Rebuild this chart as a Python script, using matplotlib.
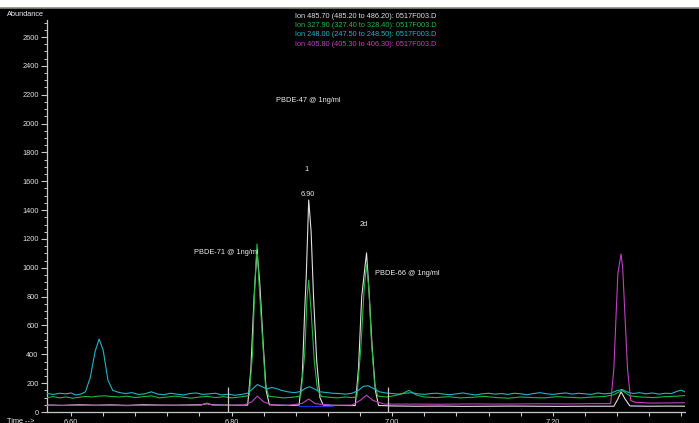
import matplotlib
matplotlib.use("Agg")
import matplotlib.pyplot as plt
from matplotlib.ticker import MultipleLocator, FixedLocator

plt.rcParams['font.family'] = ['Liberation Sans', 'DejaVu Sans']

# ---- data ----
ion_labels = [
    "Ion 485.70 (485.20 to 486.20): 0517F003.D",
    "Ion 327.90 (327.40 to 328.40): 0517F003.D",
    "Ion 248.00 (247.50 to 248.50): 0517F003.D",
    "Ion 405.80 (405.30 to 406.30): 0517F003.D",
]
ion_colors = ['#e0e0e0', '#22b840', '#20b4c4', '#c040c0']

# ion 485.70 (white)
t_485 = [6.570, 6.590, 6.610, 6.630, 6.650, 6.670, 6.690, 6.710, 6.730, 6.750,
         6.762, 6.769, 6.776, 6.790, 6.805, 6.820, 6.824, 6.828, 6.8316, 6.835,
         6.839, 6.843, 6.847, 6.860, 6.875, 6.884, 6.888, 6.891, 6.893, 6.896,
         6.899, 6.902, 6.906, 6.910, 6.914, 6.930, 6.945, 6.954, 6.958, 6.962,
         6.968, 6.971, 6.975, 6.979, 6.983, 7.000, 7.030, 7.060, 7.090, 7.120,
         7.150, 7.180, 7.210, 7.240, 7.265, 7.276, 7.281, 7.285, 7.290, 7.296,
         7.320, 7.345, 7.365]
y_485 = [48, 46, 50, 47, 49, 46, 50, 48, 47, 49,
         50, 58, 50, 48, 47, 48, 300, 800, 1120, 900,
         500, 150, 50, 47, 46, 48, 250, 700, 950, 1470,
         1250, 800, 350, 100, 48, 46, 45, 45, 300, 800,
         1103, 850, 450, 150, 45, 42, 40, 41, 39, 40,
         41, 40, 39, 40, 40, 40, 90, 140, 90, 42,
         40, 41, 40]

# ion 327.90 (green)
t_327 = [6.570, 6.578, 6.586, 6.594, 6.602, 6.610, 6.618, 6.626, 6.634, 6.642,
         6.650, 6.660, 6.670, 6.680, 6.690, 6.700, 6.710, 6.720, 6.730, 6.740,
         6.750, 6.760, 6.770, 6.780, 6.790, 6.800, 6.810, 6.818, 6.822, 6.826,
         6.829, 6.8316, 6.834, 6.838, 6.842, 6.846, 6.855, 6.865, 6.875, 6.886,
         6.891, 6.894, 6.896, 6.899, 6.903, 6.907, 6.912, 6.922, 6.932, 6.942,
         6.950, 6.956, 6.961, 6.965, 6.968, 6.971, 6.974, 6.978, 6.982, 6.992,
         7.002, 7.012, 7.021, 7.030, 7.040, 7.055, 7.070, 7.085, 7.100, 7.115,
         7.130, 7.145, 7.160, 7.175, 7.190, 7.205, 7.220, 7.235, 7.250, 7.265,
         7.276, 7.286, 7.296, 7.310, 7.325, 7.340, 7.355, 7.365]
y_327 = [100, 106, 98, 104, 96, 102, 108, 104, 110, 112,
         108, 104, 110, 100, 106, 112, 98, 104, 110, 102,
         96, 104, 108, 100, 106, 98, 104, 110, 115, 400,
         900, 1165, 900, 550, 200, 110, 104, 98, 102, 110,
         400, 800, 915, 700, 350, 150, 108, 102, 98, 104,
         100, 105, 450, 850, 1020, 850, 500, 200, 110, 104,
         112, 126, 150, 118, 104, 100, 106, 98, 102, 108,
         100, 96, 104, 100, 98, 106, 102, 98, 104, 108,
         120, 150, 112, 104, 100, 106, 110, 114]

# ion 248.00 (cyan)
t_248 = [6.570, 6.578, 6.586, 6.594, 6.600, 6.606, 6.612, 6.618, 6.624, 6.630,
         6.635, 6.640, 6.646, 6.652, 6.660, 6.668, 6.676, 6.684, 6.692, 6.700,
         6.708, 6.716, 6.724, 6.732, 6.740, 6.748, 6.756, 6.764, 6.772, 6.780,
         6.788, 6.796, 6.804, 6.812, 6.820, 6.826, 6.832, 6.838, 6.844, 6.850,
         6.856, 6.862, 6.870, 6.878, 6.886, 6.892, 6.897, 6.903, 6.910, 6.918,
         6.926, 6.934, 6.942, 6.950, 6.958, 6.964, 6.970, 6.976, 6.984, 6.992,
         7.000, 7.008, 7.016, 7.024, 7.032, 7.040, 7.048, 7.056, 7.064, 7.072,
         7.080, 7.088, 7.096, 7.104, 7.112, 7.120, 7.128, 7.136, 7.144, 7.152,
         7.160, 7.168, 7.176, 7.184, 7.192, 7.200, 7.208, 7.216, 7.224, 7.232,
         7.240, 7.248, 7.256, 7.264, 7.272, 7.280, 7.286, 7.292, 7.300, 7.308,
         7.316, 7.324, 7.332, 7.340, 7.348, 7.354, 7.360, 7.365]
y_248 = [128, 122, 130, 126, 132, 118, 124, 140, 240, 420,
         506, 430, 220, 150, 135, 128, 134, 122, 126, 140,
         124, 120, 130, 124, 118, 128, 132, 122, 126, 130,
         118, 124, 116, 122, 130, 160, 190, 175, 160, 170,
         162, 150, 140, 134, 142, 165, 175, 160, 140, 135,
         130, 128, 124, 130, 150, 178, 182, 165, 140, 132,
         128, 124, 130, 134, 126, 122, 128, 130, 124, 120,
         126, 132, 124, 118, 126, 130, 124, 128, 122, 130,
         126, 120, 128, 134, 126, 122, 128, 132, 124, 130,
         126, 122, 132, 126, 130, 148, 156, 140, 128, 134,
         126, 132, 124, 130, 128, 142, 152, 138]

# ion 405.80 (magenta)
t_405 = [6.570, 6.590, 6.610, 6.630, 6.650, 6.670, 6.690, 6.710, 6.730, 6.750,
         6.762, 6.769, 6.776, 6.795, 6.815, 6.825, 6.832, 6.840, 6.850, 6.870,
         6.888, 6.896, 6.904, 6.925, 6.950, 6.960, 6.968, 6.976, 6.990, 7.020,
         7.060, 7.100, 7.140, 7.180, 7.220, 7.250, 7.272, 7.276, 7.279, 7.281,
         7.285, 7.287, 7.290, 7.293, 7.297, 7.302, 7.320, 7.345, 7.365]
y_405 = [46, 45, 47, 45, 46, 44, 46, 45, 46, 45,
         48, 62, 48, 46, 48, 70, 110, 70, 50, 46,
         60, 90, 58, 46, 48, 80, 117, 80, 55, 55,
         54, 56, 55, 57, 56, 58, 58, 300, 700, 960,
         1096, 1000, 650, 300, 80, 68, 62, 63, 64]

# integration baseline (blue) and peak markers
t_base = [6.884, 6.926]
y_base = [40, 40]
marker_times = [6.795, 6.995]
marker_top = 170

y_ticks = [0, 200, 400, 600, 800, 1000, 1200, 1400, 1600, 1800, 2000, 2200, 2400, 2600]
x_ticks = [6.60, 6.80, 7.00, 7.20]

W, H = 699, 423


def fx(px):
    return px / W


def fy(py):
    return 1 - py / H


fig = plt.figure(figsize=(W / 100, H / 100), dpi=100, facecolor='black')

# white title strip along the top, as in the instrument window
fig.patches.append(plt.Rectangle((0, fy(8)), 1, 8 / H, transform=fig.transFigure,
                                 facecolor='white', edgecolor='none'))
fig.add_artist(plt.Line2D([0, 1], [fy(8.5), fy(8.5)], color='#8a8a80', linewidth=1.2))

ax = fig.add_axes([fx(47), fy(412), fx(685) - fx(47), (412 - 20) / H])
ax.set_facecolor('black')
ax.set_xlim(6.5701, 7.3646)
ax.set_ylim(0, 2718)

axis_col = '#c8c8c8'
for s in ['top', 'right']:
    ax.spines[s].set_visible(False)
for s in ['left', 'bottom']:
    ax.spines[s].set_color(axis_col)
    ax.spines[s].set_linewidth(0.9)

ax.yaxis.set_major_locator(FixedLocator(y_ticks))
ax.yaxis.set_minor_locator(MultipleLocator(50))
ax.xaxis.set_major_locator(FixedLocator(x_ticks))
ax.xaxis.set_minor_locator(MultipleLocator(0.04))
ax.set_yticklabels([str(v) for v in y_ticks])
ax.set_xticklabels([f"{v:.2f}" for v in x_ticks])
ax.tick_params(axis='y', which='major', length=4, width=0.8, color=axis_col,
               labelcolor='#e0e0e0', labelsize=5.3, pad=2)
ax.tick_params(axis='y', which='minor', length=2.2, width=0.7, color=axis_col)
ax.tick_params(axis='x', which='both', length=3, width=0.8, color=axis_col,
               labelcolor='#e0e0e0', labelsize=5.3, pad=2)

lw = 0.8
ax.plot(t_485, y_485, color=ion_colors[0], linewidth=lw, zorder=3)
ax.plot(t_327, y_327, color=ion_colors[1], linewidth=lw, zorder=4)
ax.plot(t_248, y_248, color=ion_colors[2], linewidth=lw, zorder=5)
ax.plot(t_405, y_405, color=ion_colors[3], linewidth=lw, zorder=6)
ax.plot(t_base, y_base, color='#2030d0', linewidth=lw, zorder=7)
ax.vlines(marker_times, 0, marker_top, color=axis_col, linewidth=0.9, zorder=8)

fs = 5.3
txt = '#eeeeee'
fig.text(fx(7), fy(15), "Abundance", color=txt, fontsize=fs, va='center', ha='left')
fig.text(fx(7), fy(421), "Time -->", color=txt, fontsize=fs, va='center', ha='left')
for i, (lab, col) in enumerate(zip(ion_labels, ion_colors)):
    fig.text(fx(295), fy(16 + 9.5 * i), lab, color=col, fontsize=fs, va='center', ha='left')

fig.text(fx(276), fy(100), "PBDE-47 @ 1ng/ml", color=txt, fontsize=fs, va='center', ha='left')
fig.text(fx(306), fy(169), "1", color=txt, fontsize=fs, va='center', ha='center')
fig.text(fx(308), fy(194), "6.90", color=txt, fontsize=fs, va='center', ha='center')
fig.text(fx(364), fy(224), "2d", color=txt, fontsize=fs, va='center', ha='center')
fig.text(fx(194), fy(253), "PBDE-71 @ 1ng/ml", color=txt, fontsize=fs, va='center', ha='left')
fig.text(fx(375), fy(273), "PBDE-66 @ 1ng/ml", color=txt, fontsize=fs, va='center', ha='left')

fig.savefig("out.png", dpi=100, facecolor='black')
